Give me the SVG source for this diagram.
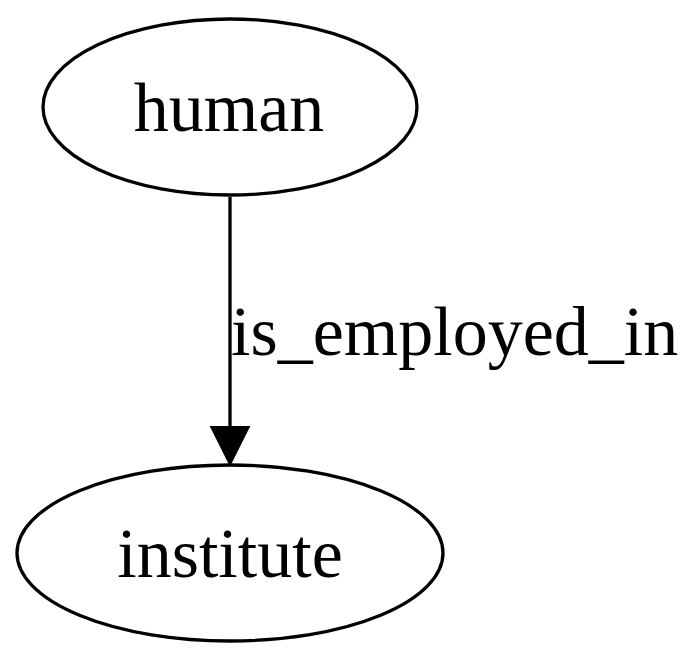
<svg xmlns="http://www.w3.org/2000/svg" width="700" height="665" viewBox="0 0 700 665">
<defs>
<style>
.node ellipse{fill:none;stroke:#000;stroke-width:3.3}
text{font-family:"Liberation Serif","Times New Roman",serif;font-size:70px;fill:#000}
.edge line{stroke:#000;stroke-width:3.3}
</style>
<marker id="arr" markerUnits="userSpaceOnUse" markerWidth="40" markerHeight="54" refX="37" refY="27" orient="auto" viewBox="0 0 40 54">
<polygon points="0,8.5 37,27 0,45.5" fill="#000" stroke="#000" stroke-width="3.3"/>
</marker>
</defs>
<rect width="700" height="665" fill="#fff"/>
<g id="human" class="node">
<ellipse cx="230" cy="107" rx="187" ry="88"/>
<text x="229" y="131" text-anchor="middle">human</text>
</g>
<g id="institute" class="node">
<ellipse cx="230" cy="553" rx="213" ry="88"/>
<text x="230" y="577" text-anchor="middle">institute</text>
</g>
<g id="connectors" class="edge">
<line x1="230" y1="197" x2="230" y2="463" marker-end="url(#arr)"/>
<text x="231" y="355">is_employed_in</text>
</g>
</svg>
